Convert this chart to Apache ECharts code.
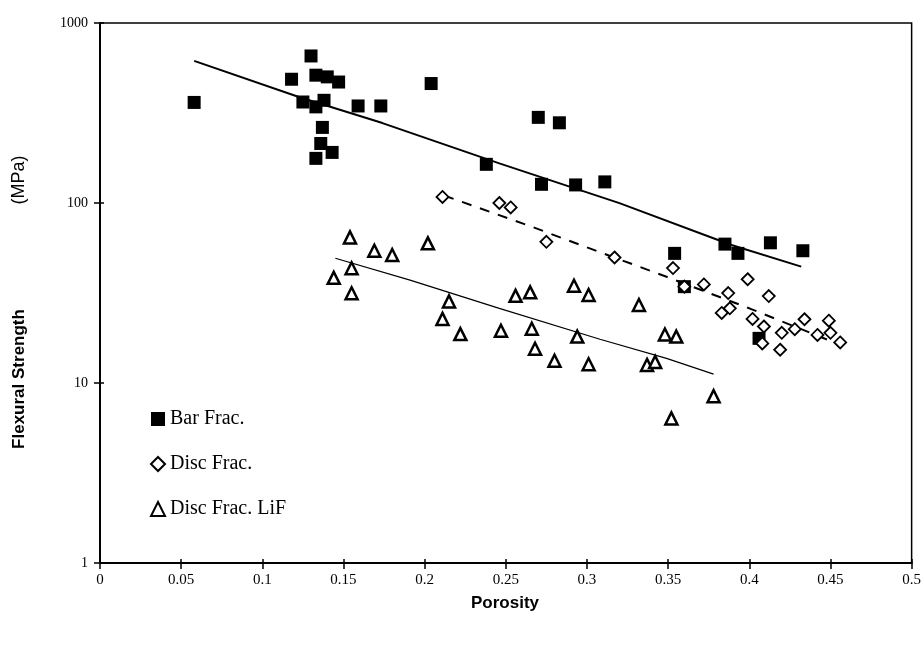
<!DOCTYPE html>
<html>
<head>
<meta charset="utf-8">
<title>Flexural Strength vs Porosity</title>
<script src="https://cdn.jsdelivr.net/npm/echarts@6/dist/echarts.min.js"></script>
<style>
  html, body { margin: 0; padding: 0; background: #fff; }
  #main { width: 924px; height: 645px; }
</style>
</head>
<body>
<div id="main"></div>
<script>
// data
var barPorosity = [0.058, 0.130, 0.118, 0.133, 0.140, 0.147, 0.125, 0.138, 0.133, 0.159, 0.173, 0.137, 0.136, 0.143, 0.133,
                   0.204, 0.270, 0.283, 0.238, 0.272, 0.293, 0.311, 0.354, 0.385, 0.393, 0.413, 0.433, 0.406, 0.360];
var barStrength = [362, 656, 487, 513, 502, 470, 364, 372, 342, 346, 346, 263, 214, 191, 177,
                   461, 299, 279, 164, 127, 126, 131, 52.5, 59.1, 52.5, 60.1, 54.3, 17.7, 34.3];

var discPorosity = [0.211, 0.246, 0.253, 0.275, 0.317, 0.353, 0.360, 0.372, 0.387, 0.388, 0.383, 0.399,
                    0.412, 0.402, 0.409, 0.420, 0.408, 0.419, 0.428, 0.434, 0.442, 0.449, 0.450, 0.456];
var discStrength = [108, 100, 94.5, 60.9, 49.8, 43.5, 34.3, 35.3, 31.6, 26.0, 24.5, 37.7,
                    30.4, 22.7, 20.6, 19.0, 16.6, 15.3, 19.9, 22.6, 18.5, 22.2, 19.0, 16.8];

var lifPorosity = [0.154, 0.169, 0.180, 0.202, 0.155, 0.144, 0.155, 0.215, 0.211, 0.222, 0.256, 0.265, 0.247, 0.266,
                   0.268, 0.280, 0.292, 0.301, 0.294, 0.301, 0.332, 0.348, 0.355, 0.337, 0.342, 0.378, 0.352];
var lifStrength = [64.4, 54.3, 51.4, 59.7, 43.4, 38.4, 31.5, 28.4, 22.7, 18.7, 30.5, 31.9, 19.5, 20.0,
                   15.5, 13.3, 34.7, 30.8, 18.1, 12.7, 27.1, 18.6, 18.1, 12.6, 13.1, 8.45, 6.36];

// trend lines
var barFitPorosity = [0.058, 0.123, 0.174, 0.246, 0.320, 0.389, 0.432];
var barFitStrength = [616, 387, 278, 166, 99.9, 58.4, 44.3];
var discFitPorosity = [0.212, 0.266, 0.309, 0.349, 0.400, 0.456];
var discFitStrength = [110, 73.8, 52.9, 38.9, 26.0, 16.3];
var lifFitPorosity = [0.145, 0.191, 0.246, 0.308, 0.349, 0.378];
var lifFitStrength = [49.3, 37.3, 26.0, 17.5, 13.7, 11.2];

var seriesNames = ['Bar Frac.', 'Disc Frac.', 'Disc Frac. LiF'];

function pairs(xs, ys) {
    return xs.map(function (x, i) { return [x, ys[i]]; });
}

var myChart = echarts.init(document.getElementById('main'));
var serif = '"Liberation Serif", "DejaVu Serif", serif';
var sans = '"Liberation Sans", Arial, sans-serif';

var option = {
    backgroundColor: '#fff',
    animation: false,
    grid: {
        left: 100,
        right: 11,
        top: 23,
        bottom: 82,
        show: true,
        borderColor: '#000',
        borderWidth: 1.5
    },
    legend: {
        data: seriesNames,
        orient: 'vertical',
        left: 145,
        top: 403,
        itemWidth: 14,
        itemHeight: 14,
        itemGap: 23,
        textStyle: { fontFamily: serif, fontSize: 20, color: '#000', lineHeight: 22 }
    },
    xAxis: [{
        type: 'value',
        min: 0,
        max: 0.5,
        interval: 0.05,
        axisLine: { lineStyle: { color: '#000', width: 2 } },
        axisTick: { length: 6, lineStyle: { color: '#000', width: 1.5 } },
        axisLabel: { fontFamily: serif, fontSize: 15, color: '#000', margin: 10 },
        splitLine: { show: false }
    }, {
        // second axis on the same line, only for the inner half of the ticks
        type: 'value',
        position: 'bottom',
        min: 0,
        max: 0.5,
        interval: 0.05,
        axisLine: { show: false },
        axisTick: { inside: true, length: 4, lineStyle: { color: '#000', width: 1.5 } },
        axisLabel: { show: false },
        splitLine: { show: false }
    }],
    yAxis: [{
        type: 'log',
        logBase: 10,
        min: 1,
        max: 1000,
        axisLine: { lineStyle: { color: '#000', width: 2 } },
        axisTick: { length: 6, lineStyle: { color: '#000', width: 1.5 } },
        axisLabel: {
            fontFamily: serif, fontSize: 14, color: '#000', margin: 12,
            formatter: function (v) { return String(v); }
        },
        splitLine: { show: false }
    }, {
        type: 'log',
        logBase: 10,
        position: 'left',
        min: 1,
        max: 1000,
        axisLine: { show: false },
        axisTick: { inside: true, length: 4, lineStyle: { color: '#000', width: 1.5 } },
        axisLabel: { show: false },
        splitLine: { show: false }
    }],
    graphic: [{
        type: 'text',
        x: 19,
        y: 379,
        rotation: Math.PI / 2,
        style: {
            text: 'Flexural Strength',
            fontFamily: sans,
            fontSize: 17,
            fontWeight: 'bold',
            fill: '#000',
            align: 'center',
            verticalAlign: 'middle'
        }
    }, {
        type: 'text',
        x: 19,
        y: 180,
        rotation: Math.PI / 2,
        style: {
            text: '(MPa)',
            fontFamily: sans,
            fontSize: 18,
            fill: '#000',
            align: 'center',
            verticalAlign: 'middle'
        }
    }, {
        type: 'text',
        x: 505,
        y: 603,
        style: {
            text: 'Porosity',
            fontFamily: sans,
            fontSize: 17,
            fontWeight: 'bold',
            fill: '#000',
            align: 'center',
            verticalAlign: 'middle'
        }
    }],
    series: [{
        name: 'bar fit',
        type: 'line',
        symbol: 'none',
        z: 1,
        data: pairs(barFitPorosity, barFitStrength),
        lineStyle: { color: '#000', width: 2 }
    }, {
        name: 'disc fit',
        type: 'line',
        symbol: 'none',
        z: 1,
        data: pairs(discFitPorosity, discFitStrength),
        lineStyle: { color: '#000', width: 2, type: [10, 9] }
    }, {
        name: 'lif fit',
        type: 'line',
        symbol: 'none',
        z: 1,
        data: pairs(lifFitPorosity, lifFitStrength),
        lineStyle: { color: '#000', width: 1.2 }
    }, {
        name: seriesNames[0],
        type: 'scatter',
        symbol: 'rect',
        symbolSize: 13,
        z: 3,
        data: pairs(barPorosity, barStrength),
        itemStyle: { color: '#000', opacity: 1 }
    }, {
        name: seriesNames[1],
        type: 'scatter',
        symbol: 'diamond',
        symbolSize: 12,
        z: 3,
        data: pairs(discPorosity, discStrength),
        itemStyle: { color: '#fff', borderColor: '#000', borderWidth: 1.8, opacity: 1 }
    }, {
        name: seriesNames[2],
        type: 'scatter',
        symbol: 'triangle',
        symbolSize: 12,
        z: 3,
        data: pairs(lifPorosity, lifStrength),
        itemStyle: { color: '#fff', borderColor: '#000', borderWidth: 2.5, opacity: 1 }
    }]
};

myChart.setOption(option);
window.addEventListener('resize', function () { myChart.resize(); });
</script>
</body>
</html>
